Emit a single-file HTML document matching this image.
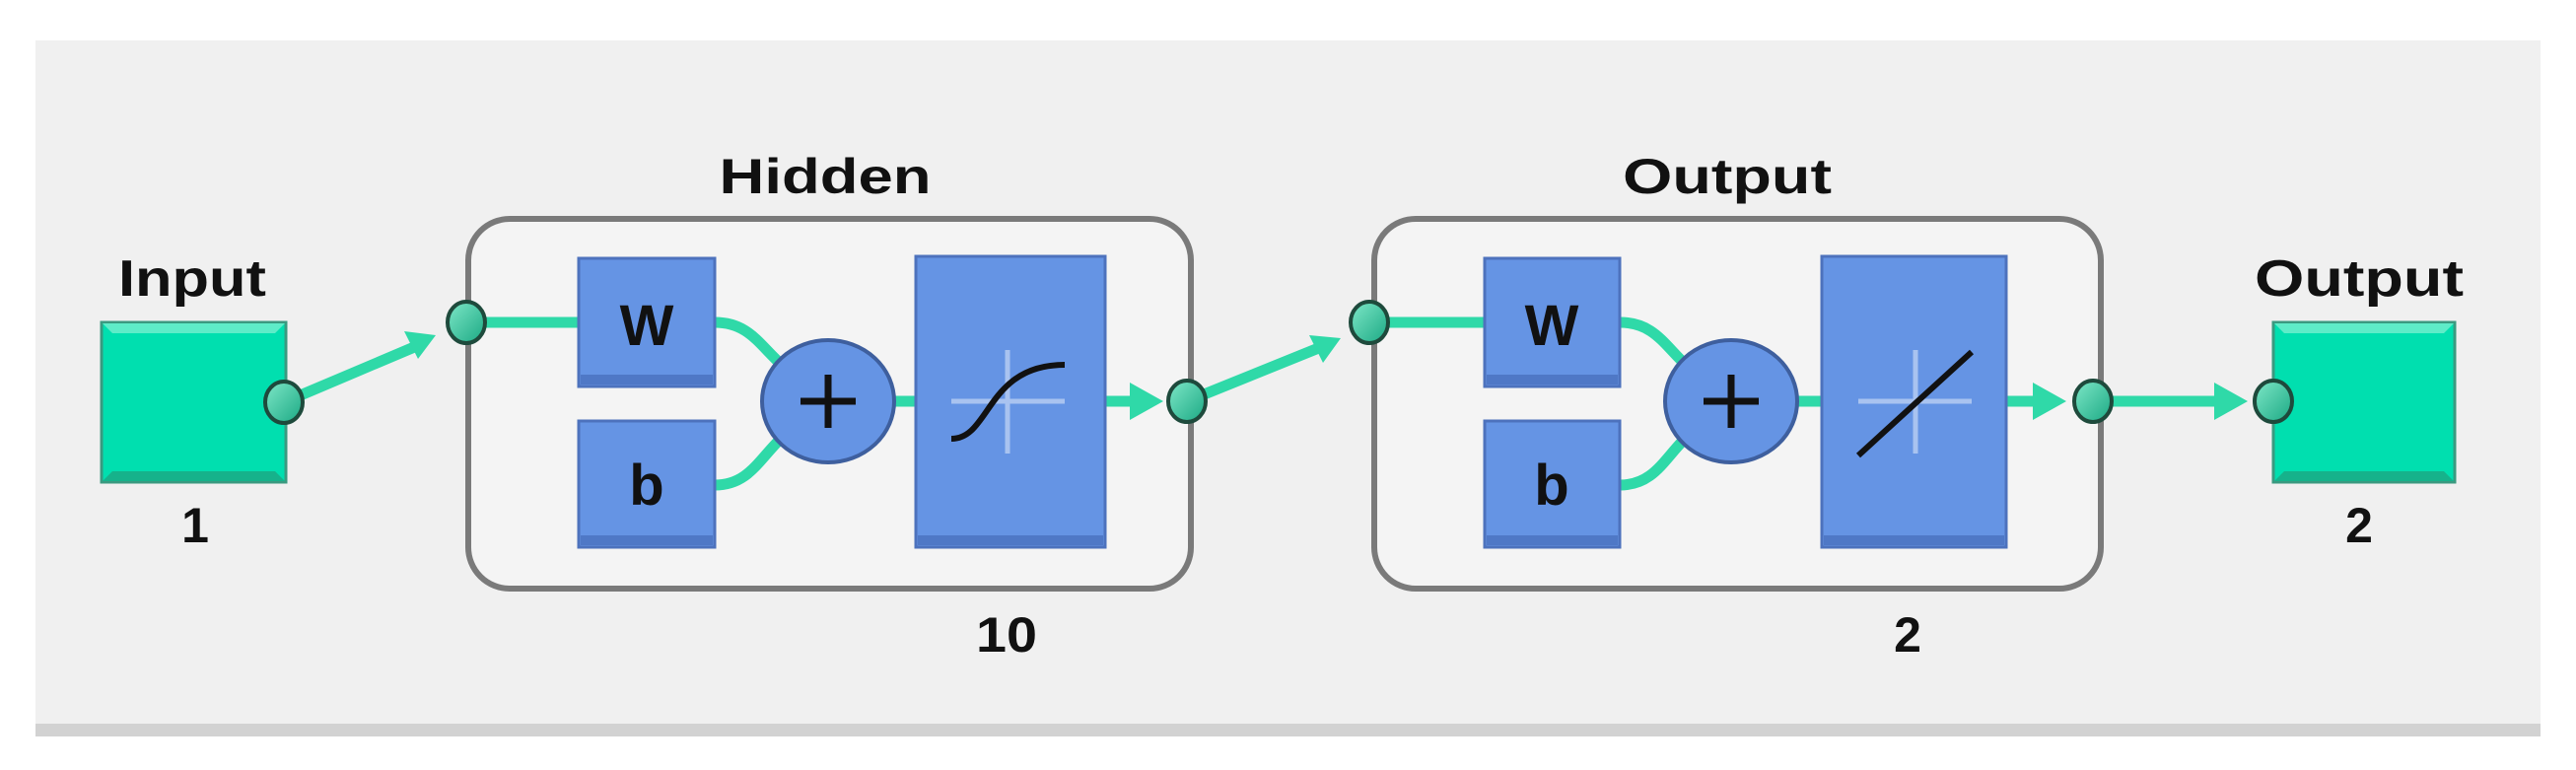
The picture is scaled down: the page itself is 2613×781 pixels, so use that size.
<!DOCTYPE html>
<html><head><meta charset="utf-8"><style>
html,body{margin:0;padding:0;background:#fff;}
svg{display:block}
text{font-family:"Liberation Sans",sans-serif;font-weight:bold;fill:#111;}
</style></head><body>
<svg width="2613" height="781" viewBox="0 0 2613 781" xmlns="http://www.w3.org/2000/svg">
<defs>
<linearGradient id="cg" x1="0" y1="0" x2="1" y2="1"><stop offset="0" stop-color="#7fe8c8"/><stop offset="1" stop-color="#1aa883"/></linearGradient>
</defs>
<rect x="0" y="0" width="2613" height="781" fill="#fff"/>
<rect x="36" y="41" width="2541" height="695" fill="#f0f0f0"/>
<rect x="36" y="734" width="2541" height="13" fill="#d2d2d2"/>

<rect x="475" y="222" width="733" height="375" rx="42" fill="#f4f4f4" stroke="#7a7a7a" stroke-width="6"/>
<rect x="1394" y="222" width="737" height="375" rx="42" fill="#f4f4f4" stroke="#7a7a7a" stroke-width="6"/>

<text x="195" y="300" font-size="52" text-anchor="middle" textLength="150" lengthAdjust="spacingAndGlyphs">Input</text>
<text x="198" y="550" font-size="50" text-anchor="middle">1</text>
<text x="837" y="196" font-size="50" text-anchor="middle" textLength="215" lengthAdjust="spacingAndGlyphs">Hidden</text>
<text x="1021" y="661" font-size="50" text-anchor="middle" textLength="62" lengthAdjust="spacingAndGlyphs">10</text>
<text x="1752" y="196" font-size="50" text-anchor="middle" textLength="212" lengthAdjust="spacingAndGlyphs">Output</text>
<text x="1935" y="661" font-size="50" text-anchor="middle">2</text>
<text x="2393" y="300" font-size="52" text-anchor="middle" textLength="212" lengthAdjust="spacingAndGlyphs">Output</text>
<text x="2393" y="550" font-size="50" text-anchor="middle">2</text>

<g stroke="#2fd9a8" stroke-width="11" fill="none" stroke-linecap="round">
<line x1="288" y1="408" x2="425" y2="350"/>
<line x1="473" y1="327" x2="587" y2="327"/>
<path d="M725 327 C760 327 770 350 795 372"/>
<path d="M725 492 C760 492 770 465 795 442"/>
<line x1="906" y1="407" x2="929" y2="407"/>
<line x1="1121" y1="407" x2="1150" y2="407"/>
<line x1="1204" y1="407" x2="1345" y2="350"/>
<line x1="1389" y1="327" x2="1506" y2="327"/>
<path d="M1643 327 C1678 327 1688 350 1712 372"/>
<path d="M1643 492 C1678 492 1688 465 1712 442"/>
<line x1="1822" y1="407" x2="1848" y2="407"/>
<line x1="2035" y1="407" x2="2065" y2="407"/>
<line x1="2123" y1="407" x2="2255" y2="407"/>
</g>
<g fill="#2fd9a8">
<polygon points="442,340 410,336 424,364"/>
<polygon points="1180,407 1146,388 1146,426"/>
<polygon points="1360,343 1328,340 1342,368"/>
<polygon points="2096,407 2062,388 2062,426"/>
<polygon points="2280,407 2246,388 2246,426"/>
</g>

<g>
<rect x="103" y="327" width="187" height="162" fill="#00dfaf" stroke="#3a9a80" stroke-width="3"/>
<polygon points="104,328 289,328 279,338 114,338" fill="#5eecc8"/>
<polygon points="104,488 289,488 279,478 114,478" fill="#16b28b"/>
<rect x="2306" y="327" width="184" height="162" fill="#00dfaf" stroke="#3a9a80" stroke-width="3"/>
<polygon points="2307,328 2489,328 2479,338 2317,338" fill="#5eecc8"/>
<polygon points="2307,488 2489,488 2479,478 2317,478" fill="#16b28b"/>
</g>

<g fill="#6594e4" stroke="#4d72bd" stroke-width="3">
<rect x="587" y="262" width="138" height="130"/>
<rect x="587" y="427" width="138" height="128"/>
<rect x="929" y="260" width="192" height="295"/>
<rect x="1506" y="262" width="137" height="130"/>
<rect x="1506" y="427" width="137" height="128"/>
<rect x="1848" y="260" width="187" height="295"/>
</g>
<g fill="#4f78c6">
<rect x="589" y="380" width="134" height="10"/><rect x="589" y="543" width="134" height="10"/>
<rect x="931" y="543" width="188" height="10"/>
<rect x="1508" y="380" width="133" height="10"/><rect x="1508" y="543" width="133" height="10"/>
<rect x="1850" y="543" width="183" height="10"/>
</g>
<text x="656" y="350" font-size="58" text-anchor="middle">W</text>
<text x="656" y="512" font-size="58" text-anchor="middle">b</text>
<text x="1574" y="350" font-size="58" text-anchor="middle">W</text>
<text x="1574" y="512" font-size="58" text-anchor="middle">b</text>

<g stroke="#a9c3f0" stroke-width="5">
<line x1="965" y1="407" x2="1080" y2="407"/><line x1="1022" y1="355" x2="1022" y2="460"/>
<line x1="1885" y1="407" x2="2000" y2="407"/><line x1="1943" y1="355" x2="1943" y2="460"/>
</g>
<path d="M965 445 C1005 445 1000 370 1080 370" stroke="#111" stroke-width="6" fill="none"/>
<line x1="1885" y1="462" x2="2000" y2="357" stroke="#111" stroke-width="6"/>

<g fill="#6594e4" stroke="#3e5f9e" stroke-width="4">
<ellipse cx="840" cy="407" rx="67" ry="62"/>
<ellipse cx="1756" cy="407" rx="67" ry="62"/>
</g>
<g stroke="#111" stroke-width="7">
<line x1="812" y1="407" x2="868" y2="407"/><line x1="840" y1="380" x2="840" y2="434"/>
<line x1="1728" y1="407" x2="1784" y2="407"/><line x1="1756" y1="380" x2="1756" y2="434"/>
</g>

<g fill="url(#cg)" stroke="#1e4a3c" stroke-width="4">
<ellipse cx="288" cy="408" rx="19" ry="21"/>
<ellipse cx="473" cy="327" rx="19" ry="21"/>
<ellipse cx="1204" cy="407" rx="19" ry="21"/>
<ellipse cx="1389" cy="327" rx="19" ry="21"/>
<ellipse cx="2123" cy="407" rx="19" ry="21"/>
<ellipse cx="2306" cy="407" rx="19" ry="21"/>
</g>
</svg>
</body></html>
